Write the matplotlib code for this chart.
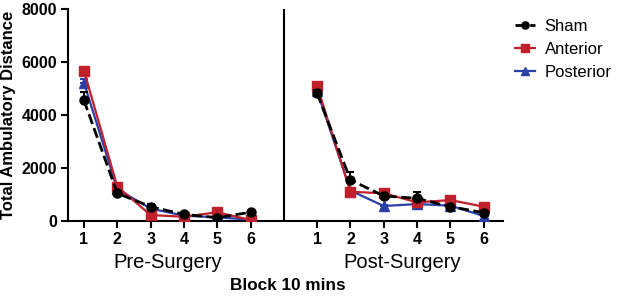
import numpy as np
import matplotlib.pyplot as plt

plt.rcParams['font.family'] = ['Liberation Sans', 'DejaVu Sans']

blocks = [1, 2, 3, 4, 5, 6]
tick_labels = ['1', '2', '3', '4', '5', '6']

# pre-surgery means / upper error
sham_pre = [4550, 1045, 540, 250, 125, 330]
sham_pre_err = [330, 80, 100, 40, 30, 40]
ant_pre = [5670, 1300, 225, 160, 330, 40]
ant_pre_err = [120, 60, 30, 20, 40, 10]
post_pre = [5220, 1200, 470, 200, 140, 50]
post_pre_err = [150, 60, 40, 20, 20, 10]

# post-surgery means / upper error
sham_post = [4820, 1550, 945, 855, 540, 315]
sham_post_err = [120, 310, 80, 250, 60, 40]
ant_post = [5090, 1105, 1045, 705, 790, 540]
ant_post_err = [100, 60, 60, 50, 60, 50]
post_post = [4900, 1150, 565, 640, 580, 190]
post_post_err = [100, 50, 40, 40, 40, 20]

series = [
    ('Sham', sham_pre, sham_pre_err, sham_post, sham_post_err, 'black', 'o', '--', 2.0),
    ('Anterior', ant_pre, ant_pre_err, ant_post, ant_post_err, '#C0202B', 's', '-', 1.6),
    ('Posterior', post_pre, post_pre_err, post_post, post_post_err, '#2A3FA6', '^', '-', 1.6),
]

fig = plt.figure(figsize=(6.17, 2.97), dpi=100)
ax = fig.add_axes([68 / 617, 1 - 221 / 297, (503 - 68) / 617, (221 - 9) / 297])

x_pre = np.array(blocks)
x_post = np.array(blocks) + 7

handles = {}
for i in [2, 1, 0]:
    name, pre, pre_e, post, post_e, c, m, ls, lw = series[i]
    for xs, ys, es in [(x_pre, pre, pre_e), (x_post, post, post_e)]:
        ax.errorbar(xs, ys, yerr=[np.zeros(len(es)), es], color=c, ecolor=c,
                    elinewidth=1.5, capsize=3, capthick=1.5, fmt='none', zorder=2 + (2 - i))
        h, = ax.plot(xs, ys, color=c, marker=m, ls=ls, lw=lw, markersize=6.5,
                     zorder=3 + (2 - i), label=name)
    handles[name] = h

ax.axvline(7, color='black', lw=1.5, zorder=1)

ax.set_xlim(0.52, 13.58)
ax.set_ylim(0, 8000)
ax.set_yticks([0, 2000, 4000, 6000, 8000])
ax.set_xticks(list(x_pre) + list(x_post))
ax.set_xticklabels(tick_labels + tick_labels)
for lab in ax.get_xticklabels() + ax.get_yticklabels():
    lab.set_fontweight('bold')
    lab.set_fontsize(11.5)
ax.tick_params(width=1.5, length=5, direction='out', pad=3)
ax.spines['top'].set_visible(False)
ax.spines['right'].set_visible(False)
ax.spines['left'].set_linewidth(1.5)
ax.spines['bottom'].set_linewidth(1.5)

ax.set_ylabel('Total Ambulatory Distance', fontsize=12, fontweight='bold', labelpad=4)

fig.text(168 / 617, 1 - 263 / 297, 'Pre-Surgery', ha='center', va='center', fontsize=14.5)
fig.text(402 / 617, 1 - 263 / 297, 'Post-Surgery', ha='center', va='center', fontsize=14.5)
fig.text(288 / 617, 1 - 286 / 297, 'Block 10 mins', ha='center', va='center',
         fontsize=12.3, fontweight='bold')

fig.legend([handles['Sham'], handles['Anterior'], handles['Posterior']],
           ['Sham', 'Anterior', 'Posterior'], loc='upper left',
           bbox_to_anchor=(508 / 617, 1 - 12 / 297), frameon=False, fontsize=12,
           handlelength=1.2, handletextpad=0.6, labelspacing=0.5, borderaxespad=0,
           markerscale=0.8)

fig.savefig('out.png', dpi=100)
